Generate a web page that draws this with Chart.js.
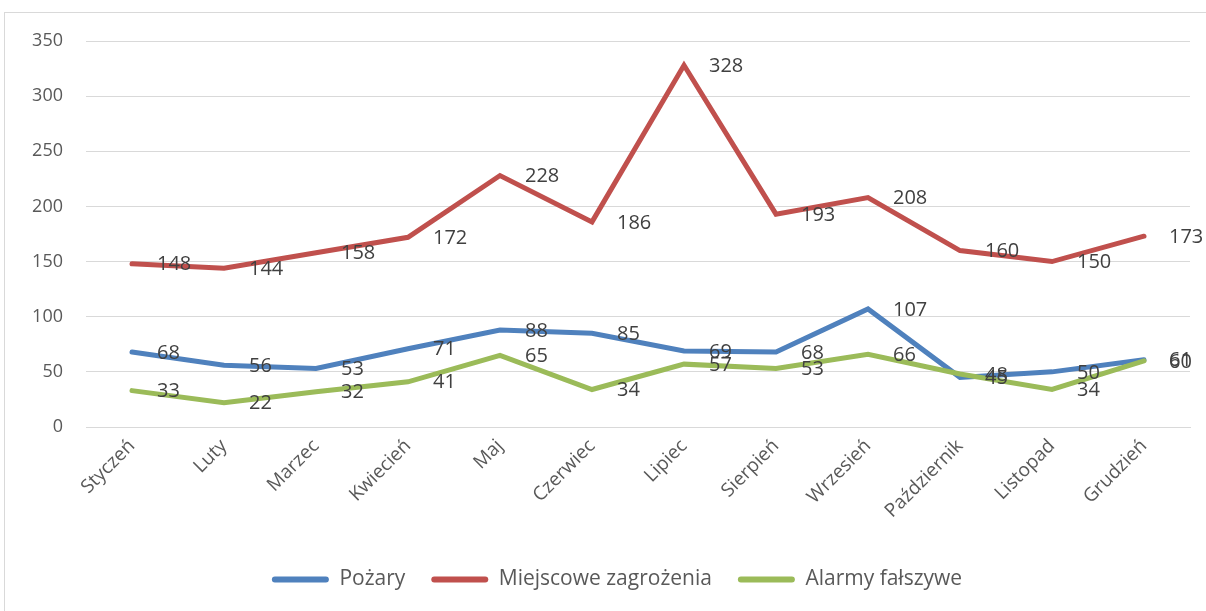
<!DOCTYPE html>
<html>
<head>
<meta charset="utf-8">
<script src="https://cdn.jsdelivr.net/npm/chart.js@4.4.1/dist/chart.umd.min.js"></script>
<style>
  html, body { margin: 0; padding: 0; background: #fff; overflow: hidden; }
  #frame { position: absolute; left: 4px; top: 12px; width: 1400px; height: 800px;
           border-top: 1px solid #d9d9d9; border-left: 1px solid #d9d9d9; }
  #wrap { position: absolute; left: 0; top: 0; width: 1206px; height: 611px; }
</style>
</head>
<body>
<div id="frame"></div>
<div id="wrap"><canvas id="chart" width="1206" height="611"></canvas></div>
<script>
const months = ["Styczeń","Luty","Marzec","Kwiecień","Maj","Czerwiec","Lipiec","Sierpień","Wrzesień","Październik","Listopad","Grudzień"];
const pozary = [68,56,53,71,88,85,69,68,107,45,50,61];
const miejscowe = [148,144,158,172,228,186,328,193,208,160,150,173];
const alarmy = [33,22,32,41,65,34,57,53,66,48,34,60];

const FONT = "'Open Sans', 'DejaVu Sans', sans-serif";

/* value labels to the right of each point */
const pointLabels = {
  id: "pointLabels",
  afterDatasetsDraw(chart) {
    const c = chart.ctx;
    c.save();
    c.font = "20px " + FONT;
    c.fillStyle = "#404040";
    c.textAlign = "left";
    c.textBaseline = "middle";
    chart.data.datasets.forEach((ds, i) => {
      chart.getDatasetMeta(i).data.forEach((pt, j) => {
        c.fillText(String(ds.data[j]), pt.x + 25, pt.y + 1);
      });
    });
    c.restore();
  }
};

/* legend is centred a bit right of the canvas centre */
const legendShift = {
  id: "legendShift",
  afterLayout(chart) {
    const lg = chart.legend;
    lg.left += 44;
    lg.width = lg.right - lg.left;
  }
};

const line = (label, data, color, order) => ({
  label, data, order,
  borderColor: color,
  backgroundColor: color,
  borderWidth: 5,
  tension: 0,
  pointRadius: 0,
  borderCapStyle: "round",
  borderJoinStyle: "miter",
  fill: false
});

new Chart(document.getElementById("chart"), {
  type: "line",
  data: {
    labels: months,
    datasets: [
      line("Pożary", pozary, "#4f81bd", 3),
      line("Miejscowe zagrożenia", miejscowe, "#c0504d", 2),
      line("Alarmy fałszywe", alarmy, "#9bbb59", 1)
    ]
  },
  options: {
    responsive: false,
    animation: false,
    layout: { padding: { top: 41, right: 16, left: 0, bottom: 11 } },
    plugins: {
      tooltip: { enabled: false },
      legend: {
        position: "bottom",
        labels: {
          sort: (a, b) => a.datasetIndex - b.datasetIndex,
          generateLabels: (chart) =>
            Chart.defaults.plugins.legend.labels.generateLabels(chart)
              .map(it => Object.assign(it, { lineWidth: 0 })),
          boxWidth: 57,
          boxHeight: 6,
          useBorderRadius: true,
          borderRadius: 3,
          padding: 26,
          color: "#595959",
          font: { family: FONT, size: 21 }
        }
      }
    },
    scales: {
      x: {
        offset: true,
        grid: { display: false, drawTicks: false },
        border: { display: true, color: "#d9d9d9", width: 1 },
        ticks: {
          color: "#595959",
          font: { family: FONT, size: 19 },
          minRotation: 45,
          maxRotation: 45,
          padding: 8
        },
        afterFit: (s) => { s.height = 116; }
      },
      y: {
        min: 0,
        max: 350,
        grid: { color: "#d9d9d9", lineWidth: 1, drawTicks: false },
        border: { display: false },
        ticks: {
          stepSize: 50,
          color: "#595959",
          font: { family: FONT, size: 18 },
          padding: 23
        },
        afterFit: (s) => { s.width = 86; }
      }
    }
  },
  plugins: [pointLabels, legendShift]
});
</script>
</body>
</html>
